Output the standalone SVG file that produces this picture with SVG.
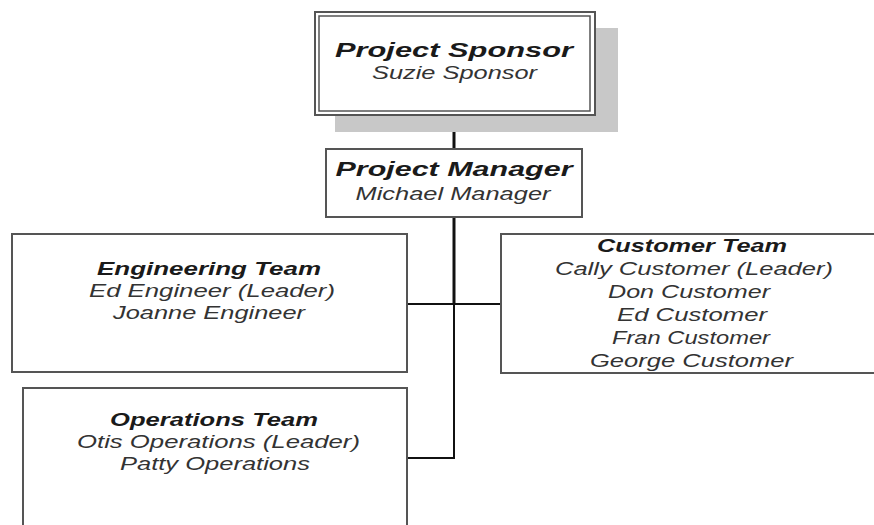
<svg xmlns="http://www.w3.org/2000/svg" width="874" height="525" viewBox="0 0 874 525">
<style>
.box{fill:#fff;stroke:#555;stroke-width:2}
.t{font-family:"Liberation Sans",Arial,sans-serif;font-style:italic;text-anchor:middle}
.h{font-weight:bold;fill:#1a1a1a}
.b{fill:#333}
.conn{stroke:#111;fill:none}
</style>
<rect width="874" height="525" fill="#fff"/>
<g id="connectors">
<line class="conn" x1="454" y1="115" x2="454" y2="149" stroke-width="3"/>
<line class="conn" x1="454" y1="217" x2="454" y2="304" stroke-width="3"/>
<line class="conn" x1="454" y1="304" x2="454" y2="459" stroke-width="2" stroke="#333"/>
<line class="conn" x1="407" y1="304" x2="501" y2="304" stroke-width="2"/>
<line class="conn" x1="407" y1="458" x2="455" y2="458" stroke-width="2" stroke="#333"/>
</g>
<g id="sponsor">
<rect x="335" y="28" width="283" height="104" fill="#c8c8c8"/>
<rect class="box" x="315" y="12" width="280" height="103"/>
<rect x="319" y="16" width="271" height="95" fill="none" stroke="#555" stroke-width="1.5"/>
<text class="t h" x="454" y="57" font-size="21" textLength="238" lengthAdjust="spacingAndGlyphs">Project Sponsor</text>
<text class="t b" x="454.5" y="79" font-size="18" textLength="165" lengthAdjust="spacingAndGlyphs">Suzie Sponsor</text>
</g>
<g id="manager">
<rect class="box" x="326" y="149" width="256" height="68"/>
<text class="t h" x="454" y="176" font-size="21" textLength="237" lengthAdjust="spacingAndGlyphs">Project Manager</text>
<text class="t b" x="453" y="200" font-size="18" textLength="195" lengthAdjust="spacingAndGlyphs">Michael Manager</text>
</g>
<g id="engineering">
<rect class="box" x="12" y="234" width="395" height="138"/>
<text class="t h" x="209" y="275" font-size="18" textLength="224" lengthAdjust="spacingAndGlyphs">Engineering Team</text>
<text class="t b" x="212" y="297" font-size="18" textLength="246" lengthAdjust="spacingAndGlyphs">Ed Engineer (Leader)</text>
<text class="t b" x="209" y="319" font-size="18" textLength="192" lengthAdjust="spacingAndGlyphs">Joanne Engineer</text>
</g>
<g id="customer">
<rect class="box" x="501" y="234" width="390" height="139"/>
<text class="t h" x="692" y="252" font-size="18" textLength="190" lengthAdjust="spacingAndGlyphs">Customer Team</text>
<text class="t b" x="694" y="275" font-size="18" textLength="278" lengthAdjust="spacingAndGlyphs">Cally Customer (Leader)</text>
<text class="t b" x="689" y="298" font-size="18" textLength="162" lengthAdjust="spacingAndGlyphs">Don Customer</text>
<text class="t b" x="692" y="321" font-size="18" textLength="150" lengthAdjust="spacingAndGlyphs">Ed Customer</text>
<text class="t b" x="691" y="344" font-size="18" textLength="158" lengthAdjust="spacingAndGlyphs">Fran Customer</text>
<text class="t b" x="691.5" y="367" font-size="18" textLength="203" lengthAdjust="spacingAndGlyphs">George Customer</text>
</g>
<g id="operations">
<rect class="box" x="23" y="388" width="384" height="160"/>
<text class="t h" x="214" y="426" font-size="18" textLength="208" lengthAdjust="spacingAndGlyphs">Operations Team</text>
<text class="t b" x="218.5" y="448" font-size="18" textLength="283" lengthAdjust="spacingAndGlyphs">Otis Operations (Leader)</text>
<text class="t b" x="215" y="470" font-size="18" textLength="190" lengthAdjust="spacingAndGlyphs">Patty Operations</text>
</g>
</svg>
